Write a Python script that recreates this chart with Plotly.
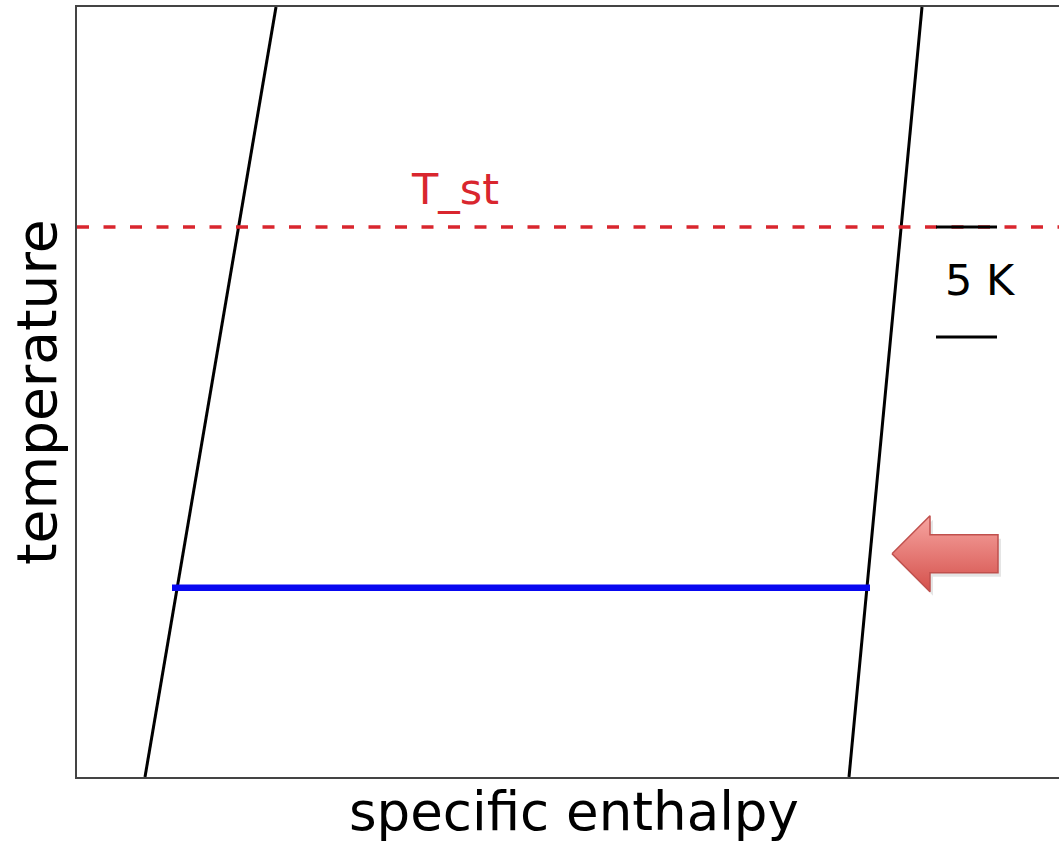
import plotly.graph_objects as go

# Axis extents (temperature in K, enthalpy in arbitrary units)
T_range = [0.0, 35.0]
h_range = [0.0, 9.82]

# Saturation boundaries: enthalpy at the bottom and top of the temperature range
h_liquid = [0.68, 1.99]
h_vapour = [7.72, 8.45]

# Isotherm across the two-phase region and the reference temperature
T_iso = 8.6
h_iso = [0.95, 7.93]
T_st = 25.0

# Scale bar
scale_dT = 5.0
scale_h = [8.59, 9.20]
scale_label_h = 9.03

FONT = "DejaVu Sans"

fig = go.Figure()

fig.add_trace(go.Scatter(x=h_liquid, y=T_range, mode="lines",
                         line=dict(color="black", width=3), hoverinfo="skip"))
fig.add_trace(go.Scatter(x=h_vapour, y=T_range, mode="lines",
                         line=dict(color="black", width=3), hoverinfo="skip"))
fig.add_trace(go.Scatter(x=h_range, y=[T_st, T_st], mode="lines",
                         line=dict(color="#d9262e", width=3.5, dash="12px,14.5px"),
                         hoverinfo="skip"))
fig.add_trace(go.Scatter(x=h_iso, y=[T_iso, T_iso], mode="lines",
                         line=dict(color="#0808f0", width=6.5), hoverinfo="skip"))
fig.add_trace(go.Scatter(x=scale_h, y=[T_st, T_st], mode="lines",
                         line=dict(color="black", width=3), hoverinfo="skip"))
fig.add_trace(go.Scatter(x=scale_h, y=[T_st - scale_dT, T_st - scale_dT], mode="lines",
                         line=dict(color="black", width=3), hoverinfo="skip"))

# Arrow pointing at the end of the isotherm
px_h = (h_range[1] - h_range[0]) / 982.0
px_T = (T_range[1] - T_range[0]) / 770.0
tip_x = h_iso[1] + 22 * px_h
tip_y = T_iso + 34 * px_T
neck_x = tip_x + 38 * px_h
end_x = tip_x + 106 * px_h
head = 38 * px_T
shaft = 19 * px_T
ax = [tip_x, neck_x, neck_x, end_x, end_x, neck_x, neck_x, tip_x]
ay = [tip_y, tip_y + head, tip_y + shaft, tip_y + shaft,
      tip_y - shaft, tip_y - shaft, tip_y - head, tip_y]
# soft shadow
fig.add_trace(go.Scatter(x=[v + 3 * px_h for v in ax], y=[v - 4 * px_T for v in ay],
                         mode="lines", fill="toself", fillcolor="rgba(0,0,0,0.10)",
                         line=dict(width=0), hoverinfo="skip"))
fig.add_trace(go.Scatter(x=ax, y=ay, mode="lines", fill="toself",
                         fillgradient=dict(type="vertical",
                                           colorscale=[[0, "#d4504b"], [1, "#f7a5a1"]]),
                         line=dict(color="#c0504d", width=1.5), hoverinfo="skip"))

fig.add_annotation(x=3.78, y=T_st, yshift=38, text="T_st", showarrow=False,
                   font=dict(family=FONT, size=43, color="#d9262e"))
fig.add_annotation(x=scale_label_h, y=T_st - scale_dT / 2, yshift=2, text="5 K",
                   showarrow=False, font=dict(family=FONT, size=43, color="black"))

fig.add_annotation(xref="paper", yref="paper", x=0.506, y=0, yshift=-34,
                   xanchor="center", yanchor="middle",
                   text="specific enthalpy", showarrow=False,
                   font=dict(family=FONT, size=53, color="black"))
fig.add_annotation(xref="paper", yref="paper", x=0, y=0.5, xshift=-40, textangle=-90,
                   xanchor="center", yanchor="middle",
                   text="temperature", showarrow=False,
                   font=dict(family=FONT, size=55, color="black"))

axis_line = dict(showline=True, linecolor="#444444", linewidth=2,
                 showgrid=False, zeroline=False, showticklabels=False, ticks="")
fig.update_xaxes(range=h_range, mirror=True, **axis_line)
fig.update_yaxes(range=T_range, mirror=False, **axis_line)

fig.update_layout(width=1059, height=843, showlegend=False,
                  margin=dict(l=77, r=0, t=7, b=66),
                  paper_bgcolor="white", plot_bgcolor="white")

fig.write_html("out.html")
